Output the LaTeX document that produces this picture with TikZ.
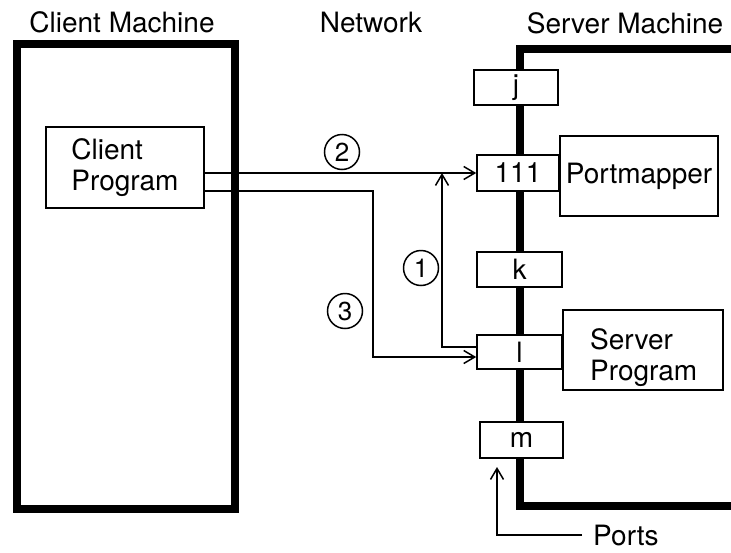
\documentclass[tikz,border=0pt]{standalone}
\usepackage{fontspec}
\setmainfont{TeX Gyre Heros}
\usetikzlibrary{arrows.meta}
\begin{document}
\begin{tikzpicture}[x=1pt,y=-1pt,
  thickbox/.style={line width=8pt},
  box/.style={draw, line width=1.6pt, fill=white, inner sep=0pt},
  conn/.style={line width=1.5pt},
  arr/.style={conn, -{Straight Barb[length=11pt,width=13pt]}},
  lbl/.style={font=\fontsize{28}{31.5}\selectfont, inner sep=0pt},
  num/.style={draw, circle, line width=1.5pt, minimum size=35pt, inner sep=0pt, font=\fontsize{26}{26}\selectfont}]
\useasboundingbox[fill=white] (0,0) rectangle (731,552);

% machines
\draw[thickbox] (17,44) rectangle (235,509);
\draw[thickbox] (745,49) -- (520,49) -- (520,506) -- (745,506);

% headers
\node[lbl] (hc) at (122,22.5) {Client Machine};
\node[lbl] (hn) at (371,23) {Network};
\node[lbl] (hs) at (625,23) {Server Machine};

% client program
\node[box, lbl, align=left, minimum width=158pt, minimum height=81pt] (cp) at (125,167.5) {Client\\Program};

% ports
\node[box, lbl, minimum width=84pt, minimum height=35pt] (pj) at (516,87.5) {j};
\node[box, lbl, minimum width=82pt, minimum height=36pt] (p111) at (518,173) {111};
\node[box, lbl, minimum width=85pt, minimum height=35pt] (pk) at (519.5,269.5) {k};
\node[box, lbl, minimum width=85pt, minimum height=34pt] (pl) at (519.5,352) {l};
\node[box, lbl, minimum width=83pt, minimum height=36pt] (pm) at (521.5,440) {m};

% server side programs
\node[box, lbl, minimum width=158pt, minimum height=80pt] (pmap) at (639,176) {Portmapper};
\node[box, minimum width=160pt, minimum height=80pt] (sp) at (643,350) {};
\node[lbl, align=left, anchor=north west] (sptext) at (590,328) {Server\\Program};

% connectors
\coordinate (c1) at (442,173);
\coordinate (c3) at (373,357);
\draw[arr] (cp.east |- p111) -- (p111.west);
\draw[arr] ([yshift=-23.5pt]cp.east) -| (c3) -- ([yshift=-5pt]pl.west);
\draw[arr] ([yshift=5pt]pl.west) -| (c1);

% step numbers
\node[num] (n2) at (342,152) {2};
\node[num] (n3) at (345,311) {3};
\node[num] (n1) at (421,268) {1};

% ports pointer
\node[lbl, anchor=west] (ports) at (593,535) {Ports};
\coordinate (cpa) at (497,467);
\draw[arr] ([xshift=-11pt]ports.west) -| (cpa);
\end{tikzpicture}
\end{document}
